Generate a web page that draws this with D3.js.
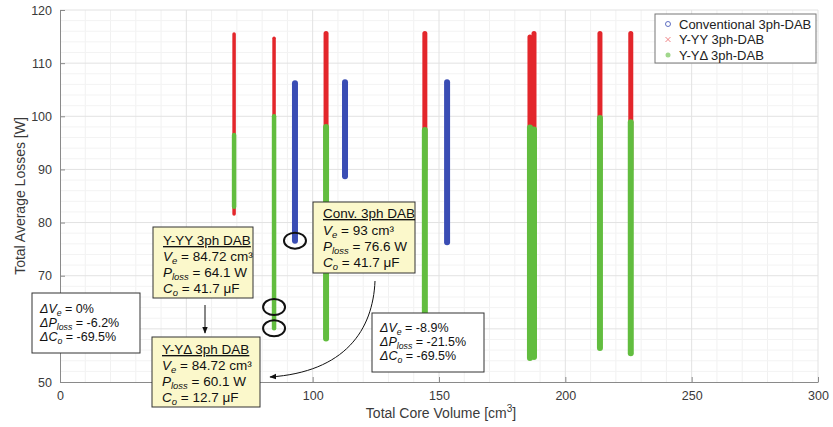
<!DOCTYPE html>
<html>
<head>
<meta charset="utf-8">
<script src="https://cdn.jsdelivr.net/npm/d3@7"></script>
<style>
  body { margin: 0; background: #fff; }
  svg { font-family: "Liberation Sans", Arial, sans-serif; }
</style>
</head>
<body>
<div id="chart"></div>
<script>
// Conventional 3ph-DAB columns (core volume, loss range)
const convVolume = [93, 112.8, 153.2];
const convLossMin = [76.6, 88.7, 76.3];
const convLossMax = [106.2, 106.4, 106.4];

// Y-YY 3ph-DAB columns
const yyVolume = [68.9, 84.72, 105.3, 144.4, 186.0, 187.6, 213.7, 225.9];
const yyLossMin = [81.6, 64.1, 90, 90, 90, 90, 90, 90];
const yyLossMax = [115.5, 114.7, 115.6, 115.6, 114.9, 115.6, 115.6, 115.6];

// Y-YDelta 3ph-DAB columns
const ydVolume = [68.9, 84.72, 105.3, 144.4, 186.0, 187.6, 213.7, 225.9];
const ydLossMin = [83, 60.1, 58.2, 58, 54.5, 54.7, 56.4, 55.4];
const ydLossMax = [96.5, 100, 98, 97.4, 97.9, 97.5, 99.7, 98.9];

// circled optimum designs
const markVolume = [84.72, 84.72, 93];
const markLoss = [64.1, 60.1, 76.6];

const xTicks = [0, 50, 100, 150, 200, 250, 300];
const yTicks = [50, 60, 70, 80, 90, 100, 110, 120];
const legendLabels = ["Conventional 3ph-DAB", "Y-YY 3ph-DAB", "Y-Y\u0394 3ph-DAB"];

const W = 833, H = 427;
const margin = {top: 10, right: 15, bottom: 45, left: 60};
const width = W - margin.left - margin.right;
const height = H - margin.top - margin.bottom;

const svg = d3.select("#chart").append("svg")
    .attr("width", W)
    .attr("height", H);

const defs = svg.append("defs");
defs.append("marker")
    .attr("id", "arrow")
    .attr("viewBox", "0 0 10 10")
    .attr("refX", 9).attr("refY", 5)
    .attr("markerWidth", 7).attr("markerHeight", 7)
    .attr("orient", "auto")
  .append("path")
    .attr("d", "M0,1 L10,5 L0,9 z")
    .attr("fill", "#111");

const g = svg.append("g")
    .attr("transform", "translate(" + margin.left + "," + margin.top + ")");

const x = d3.scaleLinear().domain([0, 300]).range([0, width]);
const y = d3.scaleLinear().domain([50, 120]).range([height, 0]);

// minor grid
g.append("g")
    .selectAll("line")
    .data(d3.range(10, 300, 10).filter(v => v % 50 !== 0))
    .join("line")
    .attr("x1", d => x(d)).attr("x2", d => x(d))
    .attr("y1", 0).attr("y2", height)
    .attr("stroke", "#f1f1f1");
g.append("g")
    .selectAll("line")
    .data(d3.range(52, 120, 2).filter(v => v % 10 !== 0))
    .join("line")
    .attr("y1", d => y(d)).attr("y2", d => y(d))
    .attr("x1", 0).attr("x2", width)
    .attr("stroke", "#f3f3f3");

// major grid
g.append("g")
    .selectAll("line")
    .data(xTicks.slice(1))
    .join("line")
    .attr("x1", d => x(d)).attr("x2", d => x(d))
    .attr("y1", 0).attr("y2", height)
    .attr("stroke", "#e2e2e2");
g.append("g")
    .selectAll("line")
    .data(yTicks.slice(1))
    .join("line")
    .attr("y1", d => y(d)).attr("y2", d => y(d))
    .attr("x1", 0).attr("x2", width)
    .attr("stroke", "#e2e2e2");

// axes
const xAxis = d3.axisBottom(x).tickValues(xTicks).tickSizeInner(-5).tickSizeOuter(0).tickPadding(9);
const yAxis = d3.axisLeft(y).tickValues(yTicks).tickSizeInner(-5).tickSizeOuter(0).tickPadding(8);

const gx = g.append("g")
    .attr("class", "x-axis axis")
    .attr("transform", "translate(0," + height + ")")
    .call(xAxis);
const gy = g.append("g")
    .attr("class", "y-axis axis")
    .call(yAxis);
[gx, gy].forEach(a => {
  a.select(".domain").attr("stroke", "#8a8a8a");
  a.selectAll(".tick line").attr("stroke", "#8a8a8a");
  a.selectAll(".tick text").attr("fill", "#3a3a3a").attr("font-size", 12.5)
      .attr("font-family", "Liberation Sans, Arial, sans-serif");
});

// axis titles
const xl = svg.append("text")
    .attr("x", margin.left + width / 2 + 2)
    .attr("y", 418)
    .attr("text-anchor", "middle")
    .attr("font-size", 14)
    .attr("fill", "#3a3a3a");
xl.append("tspan").text("Total Core Volume [cm");
xl.append("tspan").attr("dy", -6).attr("font-size", 10).text("3");
xl.append("tspan").attr("dy", 6).text("]");

svg.append("text")
    .attr("transform", "translate(25," + (margin.top + height / 2) + ") rotate(-90)")
    .attr("text-anchor", "middle")
    .attr("font-size", 14)
    .attr("fill", "#3a3a3a")
    .text("Total Average Losses [W]");

// point clouds, drawn as dense marker columns
function columns(vol, lo, hi, color, w) {
  g.append("g")
    .selectAll("line")
    .data(vol.map((v, i) => ({v: v, lo: lo[i], hi: hi[i]})))
    .join("line")
    .attr("x1", d => x(d.v)).attr("x2", d => x(d.v))
    .attr("y1", d => y(d.lo)).attr("y2", d => y(d.hi))
    .attr("stroke", color)
    .attr("stroke-width", d => d.v < 90 ? w - 1.5 : w)
    .attr("stroke-linecap", "round");
}
const blue = "#3a4db4", red = "#e3262b", green = "#62bd3f";
columns(convVolume, convLossMin, convLossMax, blue, 6);
columns(yyVolume, yyLossMin, yyLossMax, red, 5);
columns(ydVolume, ydLossMin, ydLossMax, green, 6);

// circles around chosen designs
g.append("g")
    .selectAll("ellipse")
    .data(markVolume.map((v, i) => ({v: v, l: markLoss[i]})))
    .join("ellipse")
    .attr("cx", d => x(d.v))
    .attr("cy", d => y(d.l))
    .attr("rx", 11).attr("ry", 8)
    .attr("fill", "none")
    .attr("stroke", "#111")
    .attr("stroke-width", 2);

// legend
const lg = svg.append("g").attr("transform", "translate(655,14)");
lg.append("rect").attr("width", 161).attr("height", 49)
    .attr("fill", "#fff").attr("stroke", "#777");
legendLabels.forEach((t, i) => {
  const cy = 10 + i * 15.5;
  if (i === 0) {
    lg.append("circle").attr("cx", 13).attr("cy", cy).attr("r", 2.5)
        .attr("fill", "none").attr("stroke", blue).attr("stroke-width", 0.8);
  } else if (i === 1) {
    lg.append("path").attr("d", `M10.5,${cy - 2.5}L15.5,${cy + 2.5}M10.5,${cy + 2.5}L15.5,${cy - 2.5}`)
        .attr("stroke", red).attr("stroke-width", 0.8).attr("opacity", 0.7);
  } else {
    lg.append("circle").attr("cx", 13).attr("cy", cy).attr("r", 2.5)
        .attr("fill", green).attr("opacity", 0.6);
  }
  lg.append("text").attr("x", 24).attr("y", cy + 4.5)
      .attr("font-size", 13).attr("fill", "#222").text(t);
});

// annotation helpers
function line(parent, px, py, parts, size) {
  const t = parent.append("text").attr("x", px).attr("y", py)
      .attr("font-size", size).attr("fill", "#111");
  parts.forEach(p => {
    const s = t.append("tspan").text(p[0]);
    if (p[1] === "i") s.attr("font-style", "italic");
    if (p[1] === "sub") s.attr("font-style", "italic").attr("font-size", size * 0.7).attr("dy", 2.5);
    if (p[1] === "up") s.attr("dy", -2.5);
  });
  return t;
}
function box(bx, by, bw, bh, fill) {
  svg.append("rect").attr("x", bx).attr("y", by).attr("width", bw).attr("height", bh)
      .attr("fill", fill).attr("stroke", "#333").attr("stroke-width", 1);
}
function design(bx, by, bw, bh, title, ve, pl, co, ys) {
  box(bx, by, bw, bh, "#fbf8cb");
  svg.append("text").attr("x", bx + 10).attr("y", ys[0]).attr("font-size", 13.5)
      .attr("fill", "#111").style("text-decoration", "underline").text(title);
  line(svg, bx + 10, ys[1], [["V", "i"], ["e", "sub"], [" = " + ve, "up"]], 13.5);
  line(svg, bx + 10, ys[2], [["P", "i"], ["loss", "sub"], [" = " + pl, "up"]], 13.5);
  line(svg, bx + 10, ys[3], [["C", "i"], ["o", "sub"], [" = " + co, "up"]], 13.5);
}
function delta(bx, by, bw, bh, dv, dp, dc, ys) {
  box(bx, by, bw, bh, "#fff");
  line(svg, bx + 8, ys[0], [["\u0394V", "i"], ["e", "sub"], [" = " + dv, "up"]], 12.5);
  line(svg, bx + 8, ys[1], [["\u0394P", "i"], ["loss", "sub"], [" = " + dp, "up"]], 12.5);
  line(svg, bx + 8, ys[2], [["\u0394C", "i"], ["o", "sub"], [" = " + dc, "up"]], 12.5);
}

design(153, 227, 100, 71, "Y-YY 3ph DAB", "84.72 cm\u00b3", "64.1 W", "41.7 \u03bcF", [245, 261, 277, 293]);
design(152, 337, 108, 70, "Y-Y\u0394 3ph DAB", "84.72 cm\u00b3", "60.1 W", "12.7 \u03bcF", [354, 370, 386, 402]);
design(313, 202, 102, 71, "Conv. 3ph DAB", "93 cm\u00b3", "76.6 W", "41.7 \u03bcF", [218, 235, 251, 267]);
delta(32, 293, 108, 60, "0%", "-6.2%", "-69.5%", [313, 327, 341]);
delta(372, 313, 112, 59, "-8.9%", "-21.5%", "-69.5%", [332, 346, 360]);

// arrows
svg.append("line").attr("x1", 205).attr("y1", 305).attr("x2", 205).attr("y2", 333)
    .attr("stroke", "#111").attr("stroke-width", 1).attr("marker-end", "url(#arrow)");
svg.append("path").attr("d", "M375,281 C373,330 345,372 270,377")
    .attr("fill", "none").attr("stroke", "#111").attr("stroke-width", 1)
    .attr("marker-end", "url(#arrow)");
</script>
</body>
</html>
